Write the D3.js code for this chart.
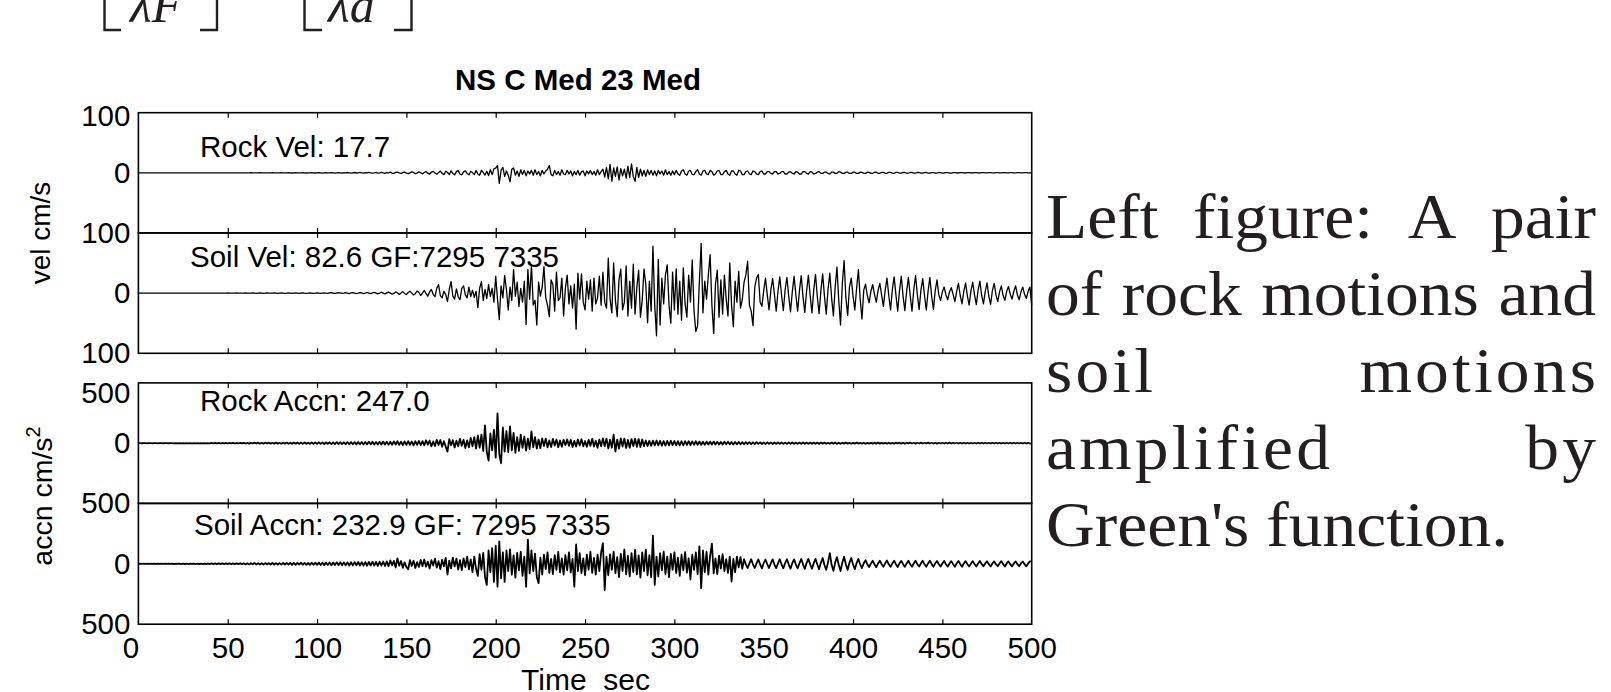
<!DOCTYPE html>
<html>
<head>
<meta charset="utf-8">
<script src="https://cdn.jsdelivr.net/npm/d3@7"></script>
<style>
  html, body { margin: 0; padding: 0; background: #fff; }
  svg { display: block; }
</style>
</head>
<body>
<svg id="fig" width="1611" height="692"></svg>
<script>
// ---- Time axis -------------------------------------------------------------
const timeStep = 1;            // seconds between samples
const timeDomain = [0, 500];
const timeTicks = [0, 50, 100, 150, 200, 250, 300, 350, 400, 450, 500];
const gfIds = ["7295", "7335"];

// ---- Rock velocity, cm/s (one sample per second, 0-500 s) ------------------
const rockVel = [
  0,0,0,0,0,0,0,0,0,0,0,0,0,0,0,0,0,0,0,0,
  0,0,0,0,0,0,0,0,0,0,0,0,0,0,0,0,0,0,0,0,
  0,0,0,0,0,0,0,0,0,0,0,0,0,0,0,0,0,0,0,0,
  0,0,0,0.2,0,-0.2,0,0,0.2,0,0,-0.2,0,0,0,0.2,0,-0.2,0,0,
  0.2,0,-0.2,0,0.3,0,-0.3,0,0.2,0,-0.2,0,0.3,0,-0.3,0,0,0.3,0,-0.3,
  0,0.3,0,-0.4,0,0.4,-0.2,0,0.4,0,-0.4,0,0.3,0,-0.4,0.2,0,0.5,0,-0.5,
  0,0.5,-0.3,0,0.6,0,-0.6,0.2,0,0.7,0,-0.6,0,0.8,-0.4,0,0.8,0,-0.9,0.3,
  0,1,-0.5,-1,0.6,1.2,0,-1.2,0.4,1.3,-0.5,-1.4,0,1.5,0.6,-1.5,-0.4,1.6,0,-1.8,
  0.5,2,-0.6,-2.2,1,2.4,-0.4,-2.5,0.6,2.8,-1,-3,2.6,0.5,-2.8,3.2,-1,-3.4,2,3.6,
  -2.4,-3.5,1.5,3.2,-1,-3.4,2.5,0.4,-3,3.6,-2,-4,4.2,0.6,-3.8,2.5,-4.6,5.2,-3,6.5,
  8,12,-17.7,4,9,-6,3,-4,-15,6,8,-4,3,-6,5,-3,4,-5,3,-2,
  4,-4,5,-3,2,-5,4,-2,3,6,12,-3,-5,4,-3,2,-4,5,-2,-3,
  4,-2,3,-5,2,-3,4,-4,2,3,-5,3,-2,4,-3,2,-4,5,-3,2,
  6,-7,9,-10,14,-14,8,-6,10,-12,7,-5,6,-9,11,-8,15,-6,-14,9,
  -8,6,-5,4,-6,5,-3,4,-4,3,-5,4,-2,3,-4,5,-3,2,-4,3,
  -3,4,-2,-4,3,5,-2,-4,3,4,-3,-3,2,5,-2,-4,3,4,-2,-3,
  4,2,-4,-2,3,4,-3,-3,2,4,-2,-4,3,3,-2,-4,4,3,-3,-3,
  2,3,-2,-3,3,2,-2,-3,2,3,-2,-2,2,2,-1,-2,2,2,-2,-1,
  2,2,-2,-2,1,2,-1,-2,2,1,-2,-2,2,2,-1,-2,2,1,-2,-1,
  1,2,-1,-1,1,1,-1,-2,1,1,-1,-1,2,1,-1,-1,1,1,-1,-1,
  1,1,-1,-1,1,0.8,-0.8,-1,1,0.8,-1,-0.8,0.8,1,-0.8,-0.8,0.8,0.8,-0.8,-0.6,
  0.6,0.8,-0.6,-0.8,0.6,0.6,-0.6,-0.6,0.6,0.5,-0.6,-0.5,0.5,0.6,-0.5,-0.5,0.5,0.5,-0.5,-0.4,
  0.4,0.5,-0.4,-0.5,0.4,0.4,-0.4,-0.4,0.5,0.3,-0.4,-0.3,0.4,0.4,-0.3,-0.4,0.3,0.3,-0.3,-0.3,
  0.3,0.3,-0.3,-0.3,0.3,0.2,-0.3,-0.2,0.3,0.2,-0.2,-0.3,0.2,0.2,-0.2,-0.2,0.2,0.3,-0.2,-0.2,
  0.2,0.2,-0.2,-0.2,0.2,0.2,-0.2,-0.2,0.2,0.2,-0.2,-0.2,0.2,0.2,-0.2,-0.2,0.2,0.2,-0.2,-0.2,
  0
];

// ---- Soil velocity, cm/s ----------------------------------------------------
const soilVel = [
  0,0,0,0,0,0,0,0,0,0,0,0,0,0,0,0,0,0,0,0,
  0,0,0,0,0,0,0,0,0,0,0,0,0,0,0,0,0,0,0,0,
  0,0,0,0,0,0,0,0,0,0,0.2,0,-0.2,0,0,0.2,0,-0.2,0,0,
  0.2,0,-0.2,0,0.3,0,-0.3,0,0.2,0,-0.3,0,0.3,0,-0.2,0,0.3,0,-0.3,0,
  0.3,0,-0.3,0,0.4,0,-0.4,0,0.3,0,-0.4,0,0.4,0,-0.3,0,0.4,0,-0.4,0,
  0.5,0,-0.5,0,0.5,-0.2,-0.5,0.3,0.6,0,-0.6,0,0.6,0.2,-0.6,0,0.7,0,-0.7,0.2,
  0.8,0,-0.8,0,0.9,0.3,-0.9,0,1,0,-1,0.3,1.2,0,-1.2,0,1.4,0,-1.5,0.4,
  1.6,0,-1.8,-0.5,2,0.6,-2.2,0,2.5,-0.6,-2.6,1,3,0,-3.2,-1,3.5,1,-4,0,
  4.5,-1,-5,2,6,-2,-6,8,14,-4,-8,3,-2,-14,6,19,-5,-10,7,-6,
  -11,8,12,-3,-8,10,-6,5,-7,3,-24,8,19,-12,6,-9,14,-6,8,-15,
  28,-10,-44,12,-8,29,6,-28,10,-12,39,-5,18,-22,8,-15,20,-52,39,-10,
  47,-20,-12,-53,18,-5,10,44,-8,-20,-39,22,14,-30,35,-12,-8,25,-38,8,
  30,-18,12,-25,15,-60,33,-10,32,-15,-28,20,-10,22,-30,25,-18,-8,28,-20,
  35,-15,-25,58,-10,-33,50,-12,-39,22,40,-28,-15,45,-38,20,-25,48,-35,10,
  38,-40,-12,40,15,-49,20,-30,78,-20,-71,56,-53,25,-18,30,47,-20,-50,35,
  -28,40,-35,20,-45,42,-18,-40,30,-15,55,-30,-64,-54,20,82.6,-33,20,-10,30,
  64,-20,-67,15,38,-40,22,-35,30,-10,-38,50,-20,-56,20,-15,36,-25,-11,18,
  30,53,-20,-30,-54,10,25,31,-15,-22,4,25,-3,-28,5,24,-2,-30,3,27,
  -4,-29,6,26,-5,-31,2,28,-3,-30,4,29,-6,-32,3,30,-4,-33,5,31,
  -6,-34,4,32,-5,-35,6,33,-8,-38,10,43,-12,-53,15,54,-8,-37,10,25,
  -5,-28,8,39,-10,-43,5,15,-4,-16,3,14,-2,-15,4,16,-3,-22,5,25,
  -4,-28,6,27,-3,-30,4,28,-5,-29,3,26,-4,-30,6,29,-3,-27,5,24,
  -4,-28,3,26,-5,-27,4,22,-3,-12,2,10,-3,-11,2,9,-2,-14,3,16,
  -4,-18,3,17,-5,-20,4,18,-3,-19,5,20,-4,-18,3,17,-5,-19,4,16,
  -3,-14,2,12,-4,-12,3,11,-2,-10,3,12,-3,-11,2,10,-2,-9,3,10,
  -20
];

// ---- Rock acceleration, cm/s^2 ---------------------------------------------
const rockAccn = [
  0,1,-1,0,1,-1,0,1,-1,0,1,-1,0,1,-1,0,1,-1,0,1,
  -1,1,-1,1,-1,1,-1,1,-1,1,-1,1,-1,1,-1,1,-1,1,-1,1,
  -2,2,-2,3,-2,2,-3,2,-2,3,-3,2,-2,3,-3,2,-3,3,-2,3,
  -3,3,-4,3,-3,4,-3,4,-4,3,-4,4,-3,4,-4,3,-4,5,-4,4,
  -5,4,-4,5,-5,4,-5,5,-4,5,-6,5,-5,6,-5,5,-6,6,-5,6,
  -6,7,-6,6,-7,7,-6,7,-8,7,-7,8,-7,8,-8,7,-9,8,-8,9,
  -9,8,-10,9,-9,10,-11,9,-10,11,-10,12,-11,10,-12,11,-12,13,-11,12,
  -14,12,-13,15,-12,16,-14,13,-16,15,-14,17,-15,14,-18,16,-15,18,-16,17,
  -19,24,-12,22,-26,14,-24,28,-15,26,-30,16,-28,-70,34,-18,24,-36,20,-26,
  36,-22,28,-40,22,-34,44,-26,50,-45,65,-38,70,-65,147,-72,-145,80,-60,110,
  -120,247,-90,-167,130,-70,100,-75,140,-60,85,-80,50,-65,70,-40,55,-62,38,-50,
  97,-35,50,-45,30,-42,40,-25,38,-34,22,-32,35,-20,30,-34,22,-30,28,-18,
  30,-22,28,-32,18,-28,30,-20,32,-26,18,-30,28,-22,36,-28,20,-38,30,-26,
  40,-26,38,-44,28,-38,70,-70,30,-45,40,-28,38,-40,26,-38,34,-24,36,-30,
  34,-32,30,-25,22,-24,20,-22,21,-20,22,-19,20,-21,18,-20,19,-18,20,-17,
  18,-19,17,-18,16,-18,17,-15,16,-17,15,-14,16,-13,14,-13,12,-14,13,-12,
  12,-11,13,-12,11,-12,10,-11,12,-10,11,-10,9,-11,10,-9,10,-9,8,-9,
  8,-7,8,-8,7,-7,8,-6,7,-7,6,-7,7,-6,6,-7,6,-6,7,-6,
  6,-6,5,-6,6,-5,6,-6,5,-6,5,-5,6,-5,5,-6,5,-5,5,-5,
  5,-5,5,-4,5,-5,4,-5,5,-4,5,-5,4,-5,4,-4,5,-4,4,-5,
  4,-4,5,-4,4,-4,4,-5,4,-4,4,-4,4,-4,5,-4,4,-4,4,-4,
  4,-4,3,-4,4,-3,4,-4,3,-4,4,-3,4,-3,3,-4,3,-3,4,-3,
  3,-3,4,-3,3,-3,3,-4,3,-3,3,-3,3,-3,4,-3,3,-3,3,-3,
  3,-3,3,-3,3,-3,3,-3,3,-3,3,-3,3,-3,3,-3,3,-3,3,-3,
  3,-3,3,-3,3,-3,3,-3,3,-3,3,-3,3,-3,3,-3,3,-3,3,-3,
  0
];

// ---- Soil acceleration, cm/s^2 ---------------------------------------------
const soilAccn = [
  0,1,-1,1,-1,1,-1,1,-1,1,-1,1,-1,1,-1,1,-1,1,-1,1,
  -2,2,-1,2,-2,1,-2,2,-2,2,-1,2,-2,2,-2,1,-2,2,-2,2,
  -3,3,-2,3,-3,4,-3,3,-4,3,-3,4,-4,3,-4,4,-3,5,-4,4,
  -5,4,-5,5,-4,6,-5,5,-6,5,-6,6,-5,6,-6,7,-6,6,-7,6,
  -7,7,-6,8,-7,7,-8,7,-8,8,-7,9,-8,8,-9,8,-9,9,-8,10,
  -9,10,-10,9,-11,10,-10,11,-12,10,-11,12,-11,13,-12,12,-13,12,-14,13,
  -13,14,-12,15,-14,13,-15,14,-16,15,-14,17,-15,16,-18,17,-16,19,-18,20,
  -20,28,-12,24,-30,45,-16,23,-32,12,-26,-45,30,-18,25,-34,14,-26,32,-20,
  36,-24,18,-40,30,-14,42,-31,22,-44,32,-20,48,-90,26,-38,50,-22,42,-48,
  30,-52,45,-28,60,-45,36,-70,60,-42,-100,80,-50,90,-110,-175,110,-70,130,-150,
  150,-190,186,-120,95,-150,110,-60,120,-90,70,-115,90,-55,100,-100,60,-190,200,-80,
  110,-60,85,-110,-160,50,-90,75,-45,95,-75,40,-85,72,-50,98,-72,45,-90,72,
  -55,95,-72,40,-190,160,-60,88,-78,45,-95,76,-50,100,-75,48,-90,76,-60,95,
  170,-217,60,-95,78,-50,100,-80,55,-110,82,-60,120,-88,65,-105,88,-70,115,-88,
  70,-115,95,-60,118,-95,72,-110,232.9,-175,60,-105,88,-55,100,-85,60,-110,82,-50,
  95,-76,50,-100,75,-55,96,-74,45,-130,75,-50,95,-85,145,-203,110,-70,100,-90,
  65,167,-80,45,-85,68,-40,80,-60,38,-75,60,-147,40,-70,60,-30,55,-42,38,
  -5,-36,4,38,-6,-35,3,37,-5,-38,6,36,-4,-35,5,37,-6,-36,4,38,
  -5,-37,6,38,-4,-40,5,37,-6,-38,4,40,-5,-42,6,40,-4,-41,5,42,
  -6,-44,8,48,-10,-50,12,89,-8,-58,10,55,-8,-60,10,58,-6,-50,8,48,
  -5,-45,6,40,-4,-35,5,30,-4,-27,3,25,-4,-28,3,26,-3,-24,4,27,
  -4,-25,3,26,-3,-26,4,24,-3,-25,3,26,-4,-24,3,25,-3,-23,4,26,
  -4,-24,3,25,-3,-24,4,23,-3,-22,3,24,-4,-23,3,22,-3,-24,3,23,
  -3,-24,3,22,-3,-23,3,22,-3,-22,3,23,-3,-20,3,21,-3,-22,3,20,
  -3,-20,3,22,-3,-22,3,20,-3,-21,3,20,-3,-20,3,19,-3,-21,3,20,
  20
];

// ---- Figure -----------------------------------------------------------------
const sans = "'Liberation Sans', Arial, Helvetica, sans-serif";
const serif = "'Liberation Serif', 'Times New Roman', Times, serif";
const ink = "#000";
const paperInk = "#231f20";
const fontSize = 29.5;

const svg = d3.select("#fig");
svg.append("rect").attr("width", 1611).attr("height", 692).attr("fill", "#fff");

const x = d3.scaleLinear().domain(timeDomain).range([138.4, 1031.7]);
const peak = arr => d3.max(arr, v => Math.abs(v)).toFixed(1);

const panels = [
  { values: rockVel,  top: 112.7, bottom: 232.9, lim: 100, ticks: [0, 100],       topShift: 3,  lw: 1.3,
    label: "Rock Vel: " + peak(rockVel), lx: 200, ly: 156.5 },
  { values: soilVel,  top: 232.9, bottom: 353.3, lim: 100, ticks: [-100, 0, 100], topShift: 0,  lw: 1.3,
    label: "Soil Vel: " + peak(soilVel) + " GF:" + gfIds.join(" "), lx: 190, ly: 267.3 },
  { values: rockAccn, top: 382.9, bottom: 503.4, lim: 500, ticks: [0, 500],       topShift: 10, lw: 1.8,
    label: "Rock Accn: " + peak(rockAccn), lx: 200, ly: 410.5 },
  { values: soilAccn, top: 503.4, bottom: 624.2, lim: 500, ticks: [-500, 0, 500], topShift: 0,  lw: 1.8,
    label: "Soil Accn: " + peak(soilAccn) + " GF: " + gfIds.join(" "), lx: 194, ly: 534.7 }
];

const innerTicks = timeTicks.filter(t => t > timeDomain[0] && t < timeDomain[1]);

panels.forEach(p => {
  const y = d3.scaleLinear().domain([-p.lim, p.lim]).range([p.bottom, p.top]);
  const g = svg.append("g").attr("class", "panel");

  // trace
  const line = d3.line().x((d, i) => x(i * timeStep)).y(d => y(d));
  g.append("path")
    .datum(p.values)
    .attr("d", line)
    .attr("fill", "none")
    .attr("stroke", ink)
    .attr("stroke-width", p.lw)
    .attr("stroke-linejoin", "round");

  // inward time ticks on top and bottom edges
  const topAx = g.append("g").attr("transform", `translate(0,${p.top})`)
    .call(d3.axisTop(x).tickValues(innerTicks).tickSizeInner(-5).tickSizeOuter(0).tickFormat(""));
  const botAx = g.append("g").attr("transform", `translate(0,${p.bottom})`)
    .call(d3.axisBottom(x).tickValues(innerTicks).tickSizeInner(-5).tickSizeOuter(0).tickFormat(""));
  [topAx, botAx].forEach(a => {
    a.select(".domain").remove();
    a.selectAll(".tick line").attr("stroke", ink).attr("stroke-width", 1.2);
  });

  // amplitude labels (shown without sign)
  const yAx = g.append("g").attr("transform", `translate(${x(timeDomain[0])},0)`)
    .call(d3.axisLeft(y).tickValues(p.ticks).tickSize(0).tickPadding(8)
      .tickFormat(d => String(Math.abs(d))));
  yAx.select(".domain").remove();
  yAx.attr("font-size", fontSize).attr("font-family", sans);
  yAx.selectAll(".tick text").attr("fill", ink);
  yAx.selectAll(".tick").filter(d => d === p.lim).select("text")
    .attr("transform", `translate(0,${p.topShift})`);

  // frame
  g.append("rect")
    .attr("x", x(timeDomain[0])).attr("y", p.top)
    .attr("width", x(timeDomain[1]) - x(timeDomain[0]))
    .attr("height", p.bottom - p.top)
    .attr("fill", "none").attr("stroke", ink).attr("stroke-width", 1.6);

  // trace annotation
  g.append("text")
    .attr("x", p.lx).attr("y", p.ly)
    .attr("font-family", sans).attr("font-size", fontSize).attr("fill", ink)
    .text(p.label);
});

// time labels under the last panel
const xAx = svg.append("g").attr("transform", `translate(0,${panels[3].bottom})`)
  .call(d3.axisBottom(x).tickValues(timeTicks).tickSize(0).tickPadding(13).tickFormat(d3.format("d")));
xAx.select(".domain").remove();
xAx.attr("font-size", fontSize).attr("font-family", sans);
xAx.selectAll(".tick text").attr("fill", ink);
xAx.selectAll(".tick").filter(d => d === 0).select("text").attr("transform", "translate(-8,0)");

svg.append("text")
  .attr("x", 585.5).attr("y", 690)
  .attr("text-anchor", "middle")
  .attr("font-family", sans).attr("font-size", 30).attr("fill", ink)
  .style("white-space", "pre")
  .text("Time  sec");

// title
svg.append("text")
  .attr("x", 578).attr("y", 89.5)
  .attr("text-anchor", "middle")
  .attr("font-family", sans).attr("font-size", fontSize).attr("font-weight", "bold").attr("fill", ink)
  .text("NS C Med 23 Med");

// axis titles
svg.append("text")
  .attr("transform", "translate(50,233) rotate(-90)")
  .attr("text-anchor", "middle")
  .attr("font-family", sans).attr("font-size", 28).attr("fill", ink)
  .text("vel cm/s");

const accLabel = svg.append("text")
  .attr("transform", "translate(52,496) rotate(-90)")
  .attr("text-anchor", "middle")
  .attr("font-family", sans).attr("font-size", 28.5).attr("fill", ink);
accLabel.append("tspan").text("accn cm/s");
accLabel.append("tspan").attr("dy", -12).attr("font-size", 20).text("2");

// ---- Equation fragment above the chart --------------------------------------
const eq = svg.append("g").attr("stroke", paperInk).attr("stroke-width", 2.4).attr("fill", "none");
["M121,30H104.5V-2", "M200,30H217V-2", "M322,30H304.5V-2", "M394,30H411.5V-2"]
  .forEach(d => eq.append("path").attr("d", d));
[["λF", 130], ["λd", 328]].forEach(([t, px]) => {
  svg.append("text")
    .attr("x", px).attr("y", 22)
    .attr("font-family", serif).attr("font-style", "italic").attr("font-size", 50)
    .attr("fill", paperInk)
    .text(t);
});

// ---- Caption paragraph (justified) ------------------------------------------
const caption = [
  { words: ["Left", "figure:", "A", "pair"],   spacing: 0, justify: true },
  { words: ["of", "rock", "motions", "and"],   spacing: 0, justify: true },
  { words: ["soil", "motions"],                spacing: 3, justify: true },
  { words: ["amplified", "by"],                spacing: 3, justify: true },
  { words: ["Green's", "function."],           spacing: 0, justify: false }
];
const capLeft = 1046, capRight = 1596, capTop = 238, capLead = 76.9, capSize = 64, capStretch = 1.055;

caption.forEach((ln, i) => {
  const yb = capTop + i * capLead;
  const g = svg.append("g");
  const words = ln.justify ? ln.words : [ln.words.join(" ")];
  const nodes = words.map(w => {
    const holder = g.append("g");
    const t = holder.append("text")
      .attr("x", 0).attr("y", 0)
      .attr("font-family", serif).attr("font-size", capSize).attr("fill", paperInk)
      .attr("letter-spacing", ln.spacing)
      .text(w);
    return { holder, w: (t.node().getComputedTextLength() - ln.spacing) * capStretch };
  });
  const gap = nodes.length > 1 ? (capRight - capLeft - d3.sum(nodes, n => n.w)) / (nodes.length - 1) : 0;
  let cx = capLeft;
  nodes.forEach(n => {
    n.holder.attr("transform", `translate(${cx},${yb}) scale(${capStretch},1)`);
    cx += n.w + gap;
  });
});
</script>
</body>
</html>
